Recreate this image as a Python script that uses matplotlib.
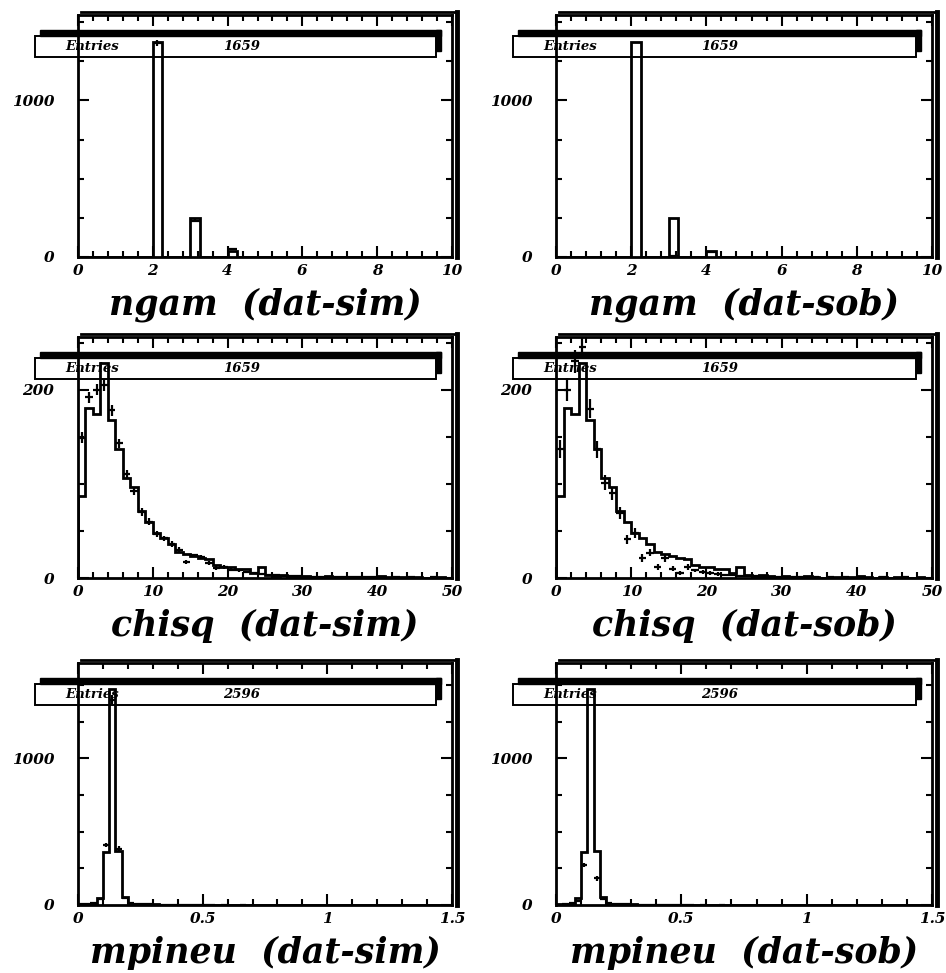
import numpy as np
import matplotlib.pyplot as plt
from matplotlib.patches import Rectangle
from matplotlib.lines import Line2D
from matplotlib.ticker import MultipleLocator, FixedLocator, FuncFormatter

# ngam: 40 bins of width 0.25 on [0, 10]; only filled bins listed
ngam_x = [2, 3, 4]
ngam_dat = [1371, 246, 40]
ngam_sim = [1365, 232, 48]
ngam_sim_err = [20, 8, 4]
ngam_sob = [1620, 6, 30]
ngam_sob_err = [20, 3, 3]
ngam_entries = 1659

# chisq: 50 bins of width 1 on [0, 50]
chisq_dat = [87, 181, 174, 228, 168, 137, 106, 97, 71, 59,
             48, 43, 36, 28, 25, 23, 21, 20, 14, 12,
             12, 10, 10, 5, 12, 3, 2, 3, 2, 1,
             2, 1, 1, 2, 1, 0, 1, 1, 0, 1,
             2, 1, 0, 1, 0, 1, 0, 0, 1, 0]
chisq_sim = [149, 192, 200, 205, 178, 143, 110, 92, 70, 60,
             47, 42, 36, 30, 17, 24, 22, 16, 11, 12,
             9, 8, 6, 5, 4, 3, 3, 2, 2, 2,
             1, 1, 1, 1, 1, 1, 1, 1, 1, 1,
             1, 0, 1, 0, 1, 0, 0, 1, 0, 0]
chisq_sim_err = [6, 6, 6, 6, 6, 5, 5, 4, 4, 4,
                 3, 3, 3, 3, 2, 2, 2, 2, 2, 2,
                 2, 2, 1, 1, 1, 1, 1, 1, 1, 1,
                 1, 1, 1, 1, 1, 1, 1, 1, 1, 1,
                 1, 1, 1, 1, 1, 1, 1, 1, 1, 1]
chisq_sob = [137, 200, 230, 245, 180, 137, 101, 90, 69, 41,
             48, 21, 27, 12, 21, 10, 5, 12, 8, 6,
             5, 4, 3, 3, 2, 2, 2, 1, 1, 1,
             1, 1, 1, 1, 1, 0, 1, 0, 1, 0,
             1, 0, 0, 1, 0, 0, 1, 0, 0, 0]
chisq_sob_err = [10, 12, 12, 12, 10, 9, 8, 7, 6, 5,
                 5, 4, 4, 3, 4, 3, 2, 3, 2, 2,
                 2, 2, 1, 1, 1, 1, 1, 1, 1, 1,
                 1, 1, 1, 1, 1, 1, 1, 1, 1, 1,
                 1, 1, 1, 1, 1, 1, 1, 1, 1, 1]
chisq_entries = 1659

# mpineu: 60 bins of width 0.025 on [0, 1.5]
mpineu_dat = [5, 8, 10, 47, 363, 1470, 370, 57, 10, 6,
              5, 4, 4, 3, 3, 3, 2, 2, 2, 2,
              1, 1, 1, 1, 0, 1, 0, 0, 1, 0] + [0] * 30
mpineu_sim = [4, 6, 12, 40, 410, 1400, 385, 50, 12, 6,
              4, 4, 3, 3, 2, 2, 2, 1, 1, 1,
              1, 1, 0, 1, 0, 0, 1, 0, 0, 0] + [0] * 30
mpineu_sob = [3, 5, 15, 30, 273, 1750, 182, 40, 15, 8,
              5, 4, 3, 3, 2, 2, 2, 1, 1, 1,
              1, 1, 0, 1, 0, 0, 1, 0, 0, 0] + [0] * 30
mpineu_err = [2, 2, 3, 6, 15, 30, 15, 6, 3, 2,
              2, 2, 2, 2, 1, 1, 1, 1, 1, 1,
              1, 1, 1, 1, 1, 1, 1, 1, 1, 1] + [1] * 30
mpineu_entries = 2596

W, H = 946, 973
FONT = dict(family="DejaVu Serif", weight="bold", style="italic")

fig = plt.figure(figsize=(W / 100, H / 100), dpi=100)
fig.patch.set_facecolor("white")


def fx(px):
    return px / W


def fy(py):
    return 1 - py / H


def panel(L, T, R, B, name, tag, edges, dat, ref, ref_err, entries,
          xlim, xmaj, xmin, ylim, yticks, ymin):
    ax = fig.add_axes([fx(L), fy(B), fx(R - L), (B - T) / H])
    ax.set_facecolor("none")
    edges = np.asarray(edges)
    dat = np.asarray(dat, dtype=float)
    ref = np.asarray(ref, dtype=float)
    ref_err = np.asarray(ref_err, dtype=float)
    ax.stairs(dat, edges, color="k", lw=2.0, zorder=3)
    centers = 0.5 * (edges[:-1] + edges[1:])
    hw = 0.5 * (edges[1:] - edges[:-1])
    m = ref > 0
    ax.errorbar(centers[m], ref[m], xerr=hw[m], yerr=ref_err[m], fmt="none",
                ecolor="k", elinewidth=1.6, capsize=0, zorder=4)
    ax.set_xlim(*xlim)
    ax.set_ylim(*ylim)
    ax.xaxis.set_major_locator(MultipleLocator(xmaj))
    ax.xaxis.set_minor_locator(MultipleLocator(xmin))
    ax.yaxis.set_major_locator(FixedLocator(yticks))
    ax.yaxis.set_minor_locator(MultipleLocator(ymin))
    ax.xaxis.set_major_formatter(FuncFormatter(lambda v, p: f"{v:g}"))
    ax.tick_params(which="both", direction="in", top=True, right=True, width=1.5, colors="k")
    ax.tick_params(which="major", length=8)
    ax.tick_params(which="minor", length=4)
    ax.tick_params(axis="x", pad=5, labelsize=11)
    ax.tick_params(axis="y", pad=17, labelsize=11)
    for lab in ax.get_xticklabels() + ax.get_yticklabels():
        lab.set_fontfamily(FONT["family"])
        lab.set_fontweight("bold")
        lab.set_fontstyle("italic")
    for s in ax.spines.values():
        s.set_linewidth(2)

    # 3D-like frame shadow
    fig.add_artist(Line2D([fx(L + 3), fx(R + 5)], [fy(T - 3), fy(T - 3)], color="k", lw=2))
    fig.add_artist(Line2D([fx(R + 5), fx(R + 5)], [fy(T - 3), fy(B)], color="k", lw=3.5))

    # statistics box
    ax.add_patch(Rectangle((fx(L - 43), fy(T + 42)), fx(R - 16 - (L - 43)), 21 / H,
                           transform=fig.transFigure, fill=False, ec="k", lw=1.4,
                           clip_on=False, zorder=2))
    ax.add_patch(Rectangle((fx(L - 38), fy(T + 21)), fx(R - 11 - (L - 38)), 6 / H,
                           transform=fig.transFigure, color="k", clip_on=False, zorder=2))
    ax.add_patch(Rectangle((fx(R - 16), fy(T + 36)), fx(5), 21 / H,
                           transform=fig.transFigure, color="k", clip_on=False, zorder=2))
    fig.text(fx(L + 14), fy(T + 32), "Entries", fontsize=9.5, ha="center", va="center", **FONT)
    fig.text(fx(L + 164), fy(T + 32), str(entries), fontsize=9.5, ha="center", va="center", **FONT)

    fig.text(fx((L + R) / 2), fy(B + 58), f"{name}  ({tag})", fontsize=25,
             ha="center", va="baseline", **FONT)
    return ax


rows = [(15, 257), (337, 578), (663, 905)]
cols = [(78, 452, "dat-sim"), (556, 932, "dat-sob")]

# ngam full arrays on 0.25 bins
ngam_edges = np.linspace(0, 10, 41)
ngam_idx = [int(round(v / 0.25)) for v in ngam_x]


def fill40(vals):
    a = np.zeros(40)
    for i, v in zip(ngam_idx, vals):
        a[i] = v
    return a


chisq_edges = np.linspace(0, 50, 51)
mpineu_edges = np.linspace(0, 1.5, 61)

for (L, R, tag) in cols:
    T, B = rows[0]
    if tag == "dat-sim":
        r, e = fill40(ngam_sim), fill40(ngam_sim_err)
    else:
        r, e = fill40(ngam_sob), fill40(ngam_sob_err)
    panel(L, T, R, B, "ngam", tag, ngam_edges, fill40(ngam_dat), r, e, ngam_entries,
          (0, 10), 2, 0.4, (0, 1545), [0, 1000], 250)

    T, B = rows[1]
    if tag == "dat-sim":
        r, e = chisq_sim, chisq_sim_err
    else:
        r, e = chisq_sob, chisq_sob_err
    panel(L, T, R, B, "chisq", tag, chisq_edges, chisq_dat, r, e, chisq_entries,
          (0, 50), 10, 2, (0, 256), [0, 200], 50)

    T, B = rows[2]
    r = mpineu_sim if tag == "dat-sim" else mpineu_sob
    panel(L, T, R, B, "mpineu", tag, mpineu_edges, mpineu_dat, r, mpineu_err, mpineu_entries,
          (0, 1.5), 0.5, 0.1, (0, 1650), [0, 1000], 250)

fig.savefig("out.png", dpi=100, facecolor="white")
